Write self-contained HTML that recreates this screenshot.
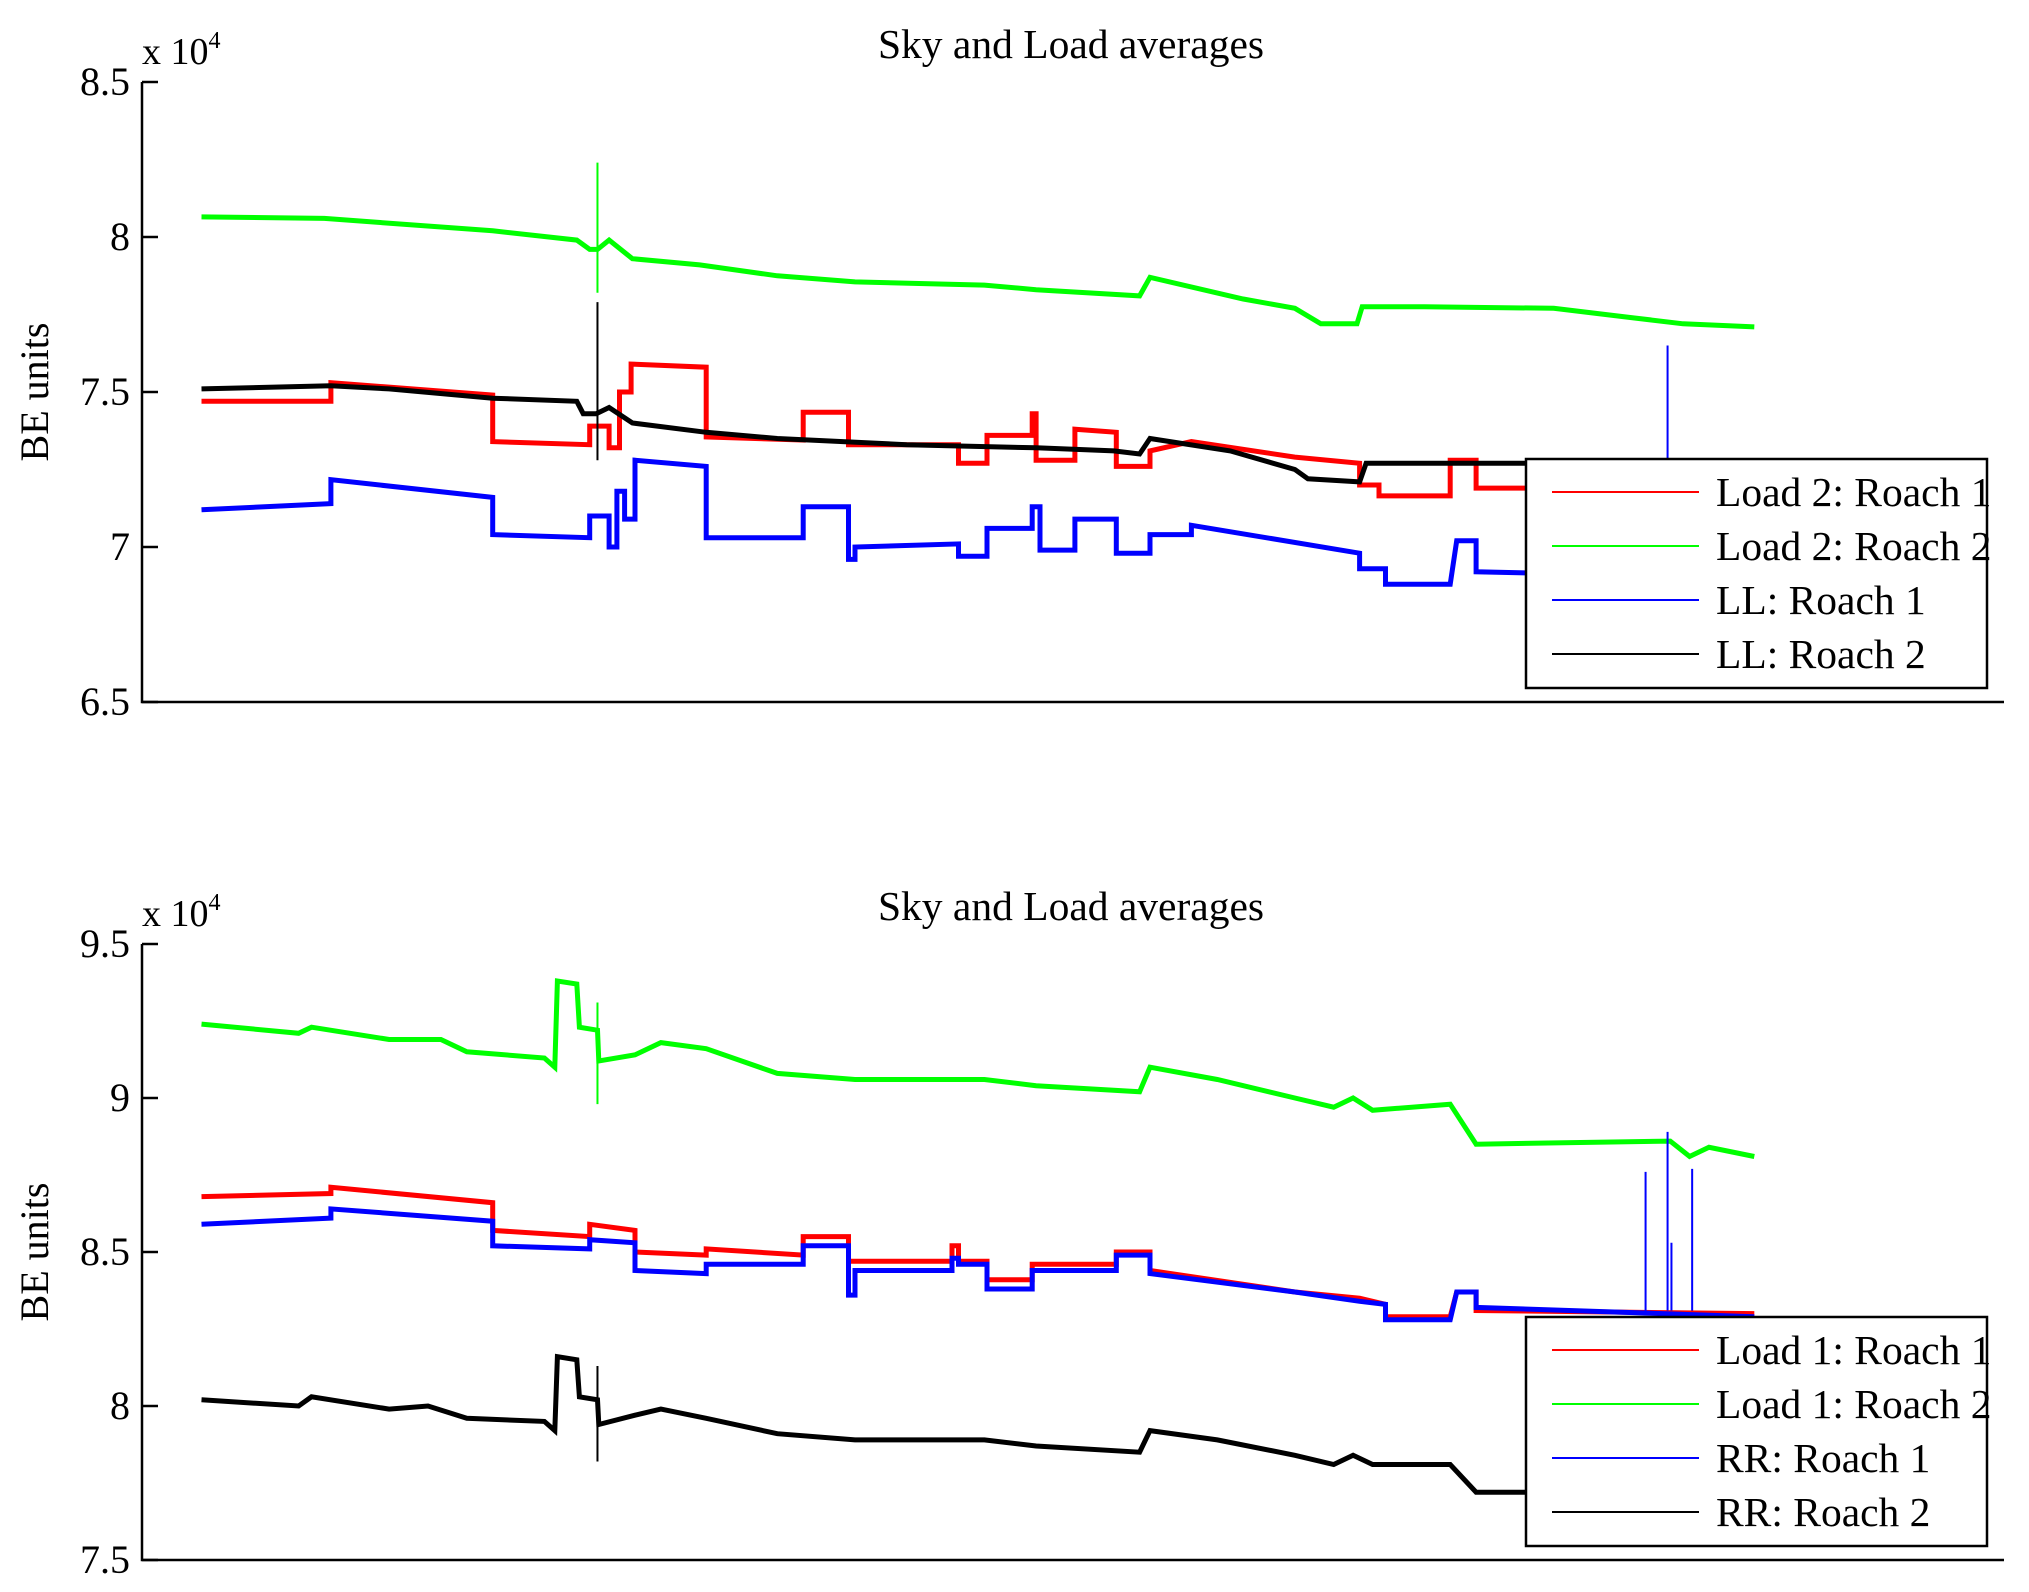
<!DOCTYPE html>
<html><head><meta charset="utf-8"><style>
html,body{margin:0;padding:0;background:#fff}
svg{display:block}
text{font-family:"Liberation Serif",serif;fill:#000}
</style></head><body>
<svg id="chart" width="2029" height="1592" viewBox="0 0 2029 1592" xmlns="http://www.w3.org/2000/svg"></svg>
<script>
// ---- data (time index, values in units of 1e4) ----
const topGreenT=[155,250,380,445,455,461,470,488,540,600,660,760,800,880,888,960,1000,1020,1048,1052,1100,1200,1260,1300,1355];
const topGreenV=[8.065,8.06,8.02,7.99,7.96,7.96,7.99,7.93,7.91,7.875,7.855,7.845,7.83,7.81,7.87,7.80,7.77,7.72,7.72,7.775,7.775,7.77,7.74,7.72,7.71];
const topRedT=[155,255,255,380,380,455,455,470,470,478,478,487,487,545,545,620,620,655,655,740,740,762,762,797,797,800,800,830,830,862,862,888,888,920,1000,1050,1050,1065,1065,1120,1120,1140,1140,1355];
const topRedV=[7.47,7.47,7.53,7.49,7.34,7.33,7.39,7.39,7.32,7.32,7.5,7.5,7.59,7.58,7.355,7.345,7.435,7.435,7.33,7.33,7.27,7.27,7.36,7.36,7.43,7.43,7.28,7.28,7.38,7.37,7.26,7.26,7.31,7.34,7.29,7.27,7.2,7.2,7.165,7.165,7.28,7.28,7.19,7.19];
const topBlackT=[155,255,300,380,445,450,460,470,488,545,600,700,800,860,880,888,950,1000,1010,1050,1055,1180,1355];
const topBlackV=[7.51,7.52,7.51,7.48,7.47,7.43,7.43,7.45,7.40,7.37,7.35,7.33,7.32,7.31,7.30,7.35,7.31,7.25,7.22,7.21,7.27,7.27,7.27];
const topBlueT=[155,255,255,380,380,455,455,470,470,476,476,482,482,490,490,545,545,620,620,655,655,660,660,740,740,762,762,797,797,803,803,830,830,862,862,888,888,920,920,1050,1050,1070,1070,1120,1125,1140,1140,1355];
const topBlueV=[7.12,7.14,7.217,7.16,7.04,7.03,7.10,7.10,7.0,7.0,7.18,7.18,7.09,7.09,7.28,7.26,7.03,7.03,7.13,7.13,6.96,6.96,7.0,7.01,6.97,6.97,7.06,7.06,7.13,7.13,6.99,6.99,7.09,7.09,6.98,6.98,7.04,7.04,7.07,6.98,6.93,6.93,6.88,6.88,7.02,7.02,6.92,6.90];
const topSpikeT=[461,461,1288];
const topSpikeLo=[7.82,7.28,6.92];
const topSpikeHi=[8.24,7.79,7.65];
const topSpikeColor=["#00ff00","#000000","#0000ff"];

const botGreenT=[155,230,240,300,340,360,420,428,430,445,447,461,462,490,510,545,600,660,760,800,880,888,940,1000,1030,1045,1060,1120,1140,1290,1305,1320,1355];
const botGreenV=[9.24,9.21,9.23,9.19,9.19,9.15,9.13,9.10,9.38,9.37,9.23,9.22,9.12,9.14,9.18,9.16,9.08,9.06,9.06,9.04,9.02,9.10,9.06,9.0,8.97,9.0,8.96,8.98,8.85,8.86,8.81,8.84,8.81];
const botRedT=[155,255,255,380,380,455,455,490,490,545,545,620,620,655,655,735,735,740,740,762,762,797,797,862,862,888,888,1000,1050,1070,1070,1120,1125,1140,1140,1355];
const botRedV=[8.68,8.69,8.71,8.66,8.57,8.55,8.59,8.57,8.5,8.49,8.51,8.49,8.55,8.55,8.47,8.47,8.52,8.52,8.47,8.47,8.41,8.41,8.46,8.46,8.5,8.5,8.44,8.37,8.35,8.33,8.29,8.29,8.37,8.37,8.31,8.30];
const botBlueT=[155,255,255,380,380,455,455,490,490,545,545,620,620,655,655,660,660,735,735,740,740,762,762,797,797,862,862,888,888,1000,1050,1070,1070,1120,1125,1140,1140,1355];
const botBlueV=[8.59,8.61,8.64,8.60,8.52,8.51,8.54,8.53,8.44,8.43,8.46,8.46,8.52,8.52,8.36,8.36,8.44,8.44,8.48,8.48,8.46,8.46,8.38,8.38,8.44,8.44,8.49,8.49,8.43,8.37,8.34,8.33,8.28,8.28,8.37,8.37,8.32,8.29];
const botBlackT=[155,230,240,300,330,360,420,428,430,445,447,461,462,490,510,545,600,660,760,800,880,888,940,1000,1030,1045,1060,1120,1140,1180,1355];
const botBlackV=[8.02,8.0,8.03,7.99,8.0,7.96,7.95,7.92,8.16,8.15,8.03,8.02,7.94,7.97,7.99,7.96,7.91,7.89,7.89,7.87,7.85,7.92,7.89,7.84,7.81,7.84,7.81,7.81,7.72,7.72,7.72];
const botSpikeT=[461,461,1271,1288,1291,1307];
const botSpikeLo=[8.98,7.82,8.31,8.31,8.31,8.31];
const botSpikeHi=[9.31,8.13,8.76,8.89,8.53,8.77];
const botSpikeColor=["#00ff00","#000000","#0000ff","#0000ff","#0000ff","#0000ff"];

const topTicks=[6.5,7,7.5,8,8.5];
const topTickLabels=["6.5","7","7.5","8","8.5"];
const botTicks=[7.5,8,8.5,9,9.5];
const botTickLabels=["7.5","8","8.5","9","9.5"];
const topLegend=["Load 2: Roach 1","Load 2: Roach 2","LL: Roach 1","LL: Roach 2"];
const botLegend=["Load 1: Roach 1","Load 1: Roach 2","RR: Roach 1","RR: Roach 2"];
const colors=["#ff0000","#00ff00","#0000ff","#000000"];

const svg=document.getElementById('chart');
const NS='http://www.w3.org/2000/svg';
function mk(tag,attrs,parent){const e=document.createElementNS(NS,tag);for(const k in attrs)e.setAttribute(k,attrs[k]);(parent||svg).appendChild(e);return e;}
const XR=2004;
const xS=t=>142+(t-109)*(XR-142)/(1548-109);

function panel(cfg){
  const g=mk('g',{});
  
  
  const yS=v=>cfg.y0+(v-cfg.vmin)*(cfg.y1-cfg.y0)/(cfg.vmax-cfg.vmin);
  cfg.series.forEach((s,i)=>{
    const pts=s.t.map((t,j)=>xS(t).toFixed(1)+','+yS(s.v[j]).toFixed(1)).join(' ');
    const p=mk('polyline',{points:pts,fill:'none',stroke:s.c,'stroke-width':5,'stroke-linejoin':'miter'},g);
    
    
  });
  cfg.spT.forEach((t,i)=>{
    const l=mk('line',{x1:xS(t),x2:xS(t),y1:yS(cfg.spLo[i]),y2:yS(cfg.spHi[i]),stroke:cfg.spC[i],'stroke-width':2},g);
    
    
  });
  const ax=mk('path',{d:`M142 ${cfg.y1} L142 ${cfg.y0} L${XR} ${cfg.y0}`,fill:'none',stroke:'#000','stroke-width':2.5},g);
  
  
  cfg.ticks.forEach((v,i)=>{
    mk('line',{x1:142,x2:158,y1:yS(v),y2:yS(v),stroke:'#000','stroke-width':2.5},g);
    const tx=mk('text',{x:130,y:yS(v)+13,'text-anchor':'end','font-size':40},g);
    tx.textContent=cfg.labels[i];
    
    
  });
  const ex=mk('text',{x:142,y:cfg.y1-18,'font-size':38},g);
  ex.innerHTML='x 10<tspan dy="-16" font-size="24">4</tspan>';
  
  
  const ti=mk('text',{x:1071,y:cfg.y1-24,'text-anchor':'middle','font-size':41.5},g);
  ti.textContent='Sky and Load averages';
  
  
  const yl=mk('text',{x:0,y:0,'text-anchor':'middle','font-size':40,transform:`translate(48 ${(cfg.y0+cfg.y1)/2}) rotate(-90)`},g);
  yl.textContent='BE units';
  
  
  const lg=mk('g',{},g);
  
  
  mk('rect',{x:1526,y:cfg.ly,width:461,height:229,fill:'#fff',stroke:'#000','stroke-width':2.5},lg);
  cfg.legend.forEach((s,i)=>{
    const cy=cfg.ly+33+i*54;
    const e=mk('g',{},lg);
    
    
    mk('line',{x1:1552,x2:1699,y1:cy,y2:cy,stroke:colors[i],'stroke-width':2},e);
    const t=mk('text',{x:1716,y:cy+14,'font-size':41.5},e);
    t.textContent=s;
  });
}

panel({name:'top-panel',y0:702,y1:82,vmin:6.5,vmax:8.5,ticks:topTicks,labels:topTickLabels,ly:459,legend:topLegend,
  series:[{t:topGreenT,v:topGreenV,c:'#00ff00',n:'series-load2-roach2'},{t:topRedT,v:topRedV,c:'#ff0000',n:'series-load2-roach1'},{t:topBlackT,v:topBlackV,c:'#000000',n:'series-ll-roach2'},{t:topBlueT,v:topBlueV,c:'#0000ff',n:'series-ll-roach1'}],
  spT:topSpikeT,spLo:topSpikeLo,spHi:topSpikeHi,spC:topSpikeColor});
panel({name:'bottom-panel',y0:1560,y1:944,vmin:7.5,vmax:9.5,ticks:botTicks,labels:botTickLabels,ly:1317,legend:botLegend,
  series:[{t:botGreenT,v:botGreenV,c:'#00ff00',n:'series-load1-roach2'},{t:botRedT,v:botRedV,c:'#ff0000',n:'series-load1-roach1'},{t:botBlueT,v:botBlueV,c:'#0000ff',n:'series-rr-roach1'},{t:botBlackT,v:botBlackV,c:'#000000',n:'series-rr-roach2'}],
  spT:botSpikeT,spLo:botSpikeLo,spHi:botSpikeHi,spC:botSpikeColor});
</script>
</body></html>
